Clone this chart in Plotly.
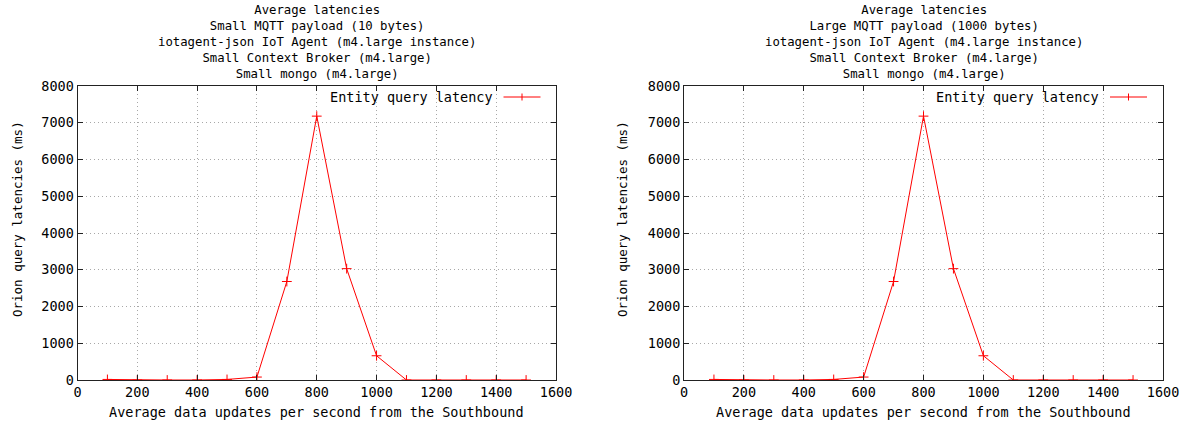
import plotly.graph_objects as go

# ---- data ----
updates_per_sec = [100, 200, 300, 400, 500, 600, 700, 800, 900, 1000, 1100, 1200, 1300, 1400, 1500]
latency_small = [15, 0, 0, 0, 15, 80, 2680, 7180, 3030, 660, 0, 0, 0, 0, 0]
latency_large = [15, 0, 0, 0, 15, 80, 2680, 7180, 3030, 660, 0, 0, 0, 0, 0]
series_name = "Entity query latency"
title_lines_small = [
    "Average latencies",
    "Small MQTT payload (10 bytes)",
    "iotagent-json IoT Agent (m4.large instance)",
    "Small Context Broker (m4.large)",
    "Small mongo (m4.large)",
]
title_lines_large = [
    "Average latencies",
    "Large MQTT payload (1000 bytes)",
    "iotagent-json IoT Agent (m4.large instance)",
    "Small Context Broker (m4.large)",
    "Small mongo (m4.large)",
]
x_title = "Average data updates per second from the Southbound"
y_title = "Orion query latencies (ms)"
x_ticks = [0, 200, 400, 600, 800, 1000, 1200, 1400, 1600]
y_ticks = [0, 1000, 2000, 3000, 4000, 5000, 6000, 7000, 8000]

W, H = 1197, 425
FONT = "DejaVu Sans Mono"
FS = 13.5
RED = "#ff0000"
BLACK = "#000000"

fig = go.Figure()

panels = [
    dict(x0=77.5, x1=556, data=latency_small, lines=title_lines_small, ytx=17),
    dict(x0=684, x1=1163, data=latency_large, lines=title_lines_large, ytx=622),
]
y0, y1 = 86, 380

for i, p in enumerate(panels):
    sfx = "" if i == 0 else str(i + 1)
    cx = (p["x0"] + p["x1"]) / 2
    fig.add_trace(go.Scatter(
        x=updates_per_sec, y=p["data"], mode="lines+markers",
        line=dict(color=RED, width=1),
        marker=dict(symbol="cross-thin", size=7, line=dict(color=RED, width=1)),
        xaxis="x" + sfx, yaxis="y" + sfx, showlegend=False, name=series_name,
    ))
    axcommon = dict(
        showline=True, linecolor="#222222", linewidth=1, mirror="ticks",
        ticks="inside", ticklen=5, tickcolor="#222222",
        showgrid=True, gridcolor="#a8a8a8", griddash="1px,3px", gridwidth=1,
        zeroline=False, automargin=False,
        tickfont=dict(family=FONT, size=FS, color=BLACK),
    )
    fig.update_layout(**{
        "xaxis" + sfx: dict(axcommon, domain=[p["x0"] / W, p["x1"] / W], range=[0, 1600],
                            tickvals=x_ticks, anchor="y" + sfx),
        "yaxis" + sfx: dict(axcommon, domain=[1 - y1 / H, 1 - y0 / H], range=[0, 8000],
                            tickvals=y_ticks, anchor="x" + sfx),
    })
    # multi-line title block
    fig.add_annotation(x=cx / W, y=1 - 41.5 / H, xref="paper", yref="paper",
                       text="<br>".join(p["lines"]), showarrow=False,
                       xanchor="center", yanchor="middle", align="center",
                       font=dict(family=FONT, size=12.3, color=BLACK))
    fig.add_annotation(x=cx / W, y=1 - 412 / H, xref="paper", yref="paper",
                       text=x_title, showarrow=False, xanchor="center", yanchor="middle",
                       font=dict(family=FONT, size=FS, color=BLACK))
    fig.add_annotation(x=p["ytx"] / W, y=1 - 219 / H, xref="paper", yref="paper",
                       text=y_title, showarrow=False, textangle=-90, xanchor="center", yanchor="middle",
                       font=dict(family=FONT, size=12.5, color=BLACK))
    # legend (gnuplot style: text then sample on the right)
    ly = 97
    fig.add_annotation(x=(p["x0"] + 417) / W, y=1 - ly / H, xref="paper", yref="paper",
                       text=series_name, showarrow=False, xanchor="right", yanchor="middle",
                       font=dict(family=FONT, size=FS, color=BLACK))
    fig.add_shape(type="line", xref="paper", yref="paper",
                  x0=(p["x0"] + 426) / W, x1=(p["x0"] + 463) / W, y0=1 - ly / H, y1=1 - ly / H,
                  line=dict(color=RED, width=1))
    fig.add_shape(type="line", xref="paper", yref="paper",
                  x0=(p["x0"] + 444.5) / W, x1=(p["x0"] + 444.5) / W,
                  y0=1 - (ly - 3.5) / H, y1=1 - (ly + 3.5) / H, line=dict(color=RED, width=1))

fig.update_layout(
    width=W, height=H, margin=dict(l=0, r=0, t=0, b=0),
    paper_bgcolor="#ffffff", plot_bgcolor="#ffffff",
    font=dict(family=FONT, size=FS, color=BLACK),
)

fig.write_html("out.html", config={"displayModeBar": False},
               post_script="document.body.style.margin='0';document.body.style.overflow='hidden';")
